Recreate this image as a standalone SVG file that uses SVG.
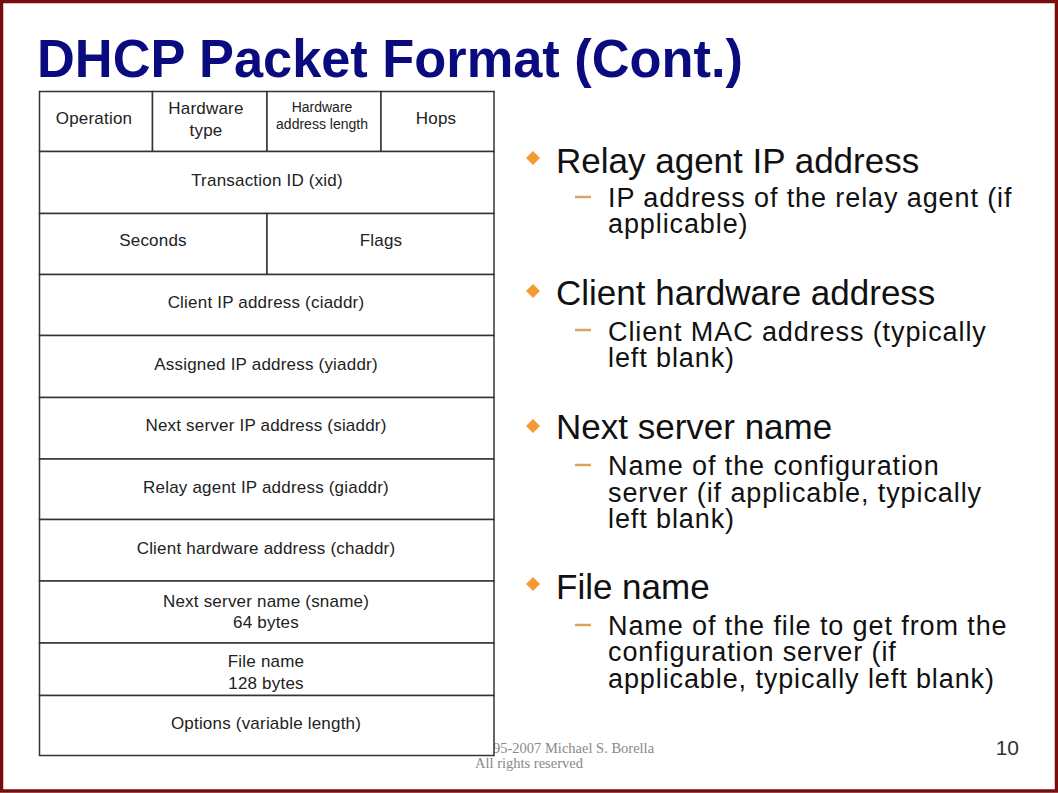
<svg xmlns="http://www.w3.org/2000/svg" width="1058" height="793" viewBox="0 0 1058 793">
<style>
.cell{fill:#fff;stroke:#333;stroke-width:1.5}
.t{font-family:"Liberation Sans",Arial,sans-serif;font-size:17px;fill:#222;text-anchor:middle;letter-spacing:0.2px}
.ts{font-family:"Liberation Sans",Arial,sans-serif;font-size:14px;fill:#222;text-anchor:middle}
.b1{font-family:"Liberation Sans",Arial,sans-serif;font-size:35px;fill:#111}
.b2{font-family:"Liberation Sans",Arial,sans-serif;font-size:27px;fill:#111;letter-spacing:0.9px}
.dia{fill:#F39A33}
.dash{stroke:#D9A45C;stroke-width:2.5}
.copy{font-family:"Liberation Serif","Times New Roman",serif;font-size:14.5px;fill:#888}
</style>
<rect x="0" y="0" width="1058" height="793" fill="#fff"/>
<rect x="1.5" y="1.5" width="1055" height="789.5" fill="none" stroke="#7A0C0C" stroke-width="3.5"/>
<g id="title">
<text x="37" y="77" font-family="Liberation Sans,Arial,sans-serif" font-weight="bold" font-size="53" fill="#0B0B80" textLength="706" lengthAdjust="spacingAndGlyphs">DHCP Packet Format (Cont.)</text>
</g>
<g id="copyright">
<text class="copy" x="493" y="753">95-2007 Michael S. Borella</text>
<text class="copy" x="475" y="768">All rights reserved</text>
</g>
<g id="table">
<g id="operation"><rect class="cell" x="39.5" y="91.5" width="113" height="60"/><text class="t" x="94" y="124">Operation</text></g>
<g id="hwtype"><rect class="cell" x="152.5" y="91.5" width="114.5" height="60"/><text class="t" x="206" y="114">Hardware</text><text class="t" x="206" y="136">type</text></g>
<g id="hwlen"><rect class="cell" x="267" y="91.5" width="114" height="60"/><text class="ts" x="322" y="112">Hardware</text><text class="ts" x="322" y="129">address length</text></g>
<g id="hops"><rect class="cell" x="381" y="91.5" width="113" height="60"/><text class="t" x="436" y="124">Hops</text></g>
<g id="xid"><rect class="cell" x="39.5" y="151.5" width="454.5" height="62"/><text class="t" x="267" y="186">Transaction ID (xid)</text></g>
<g id="seconds"><rect class="cell" x="39.5" y="213.5" width="227.5" height="61"/><text class="t" x="153" y="246">Seconds</text></g>
<g id="flags"><rect class="cell" x="267" y="213.5" width="227" height="61"/><text class="t" x="381" y="246">Flags</text></g>
<g id="ciaddr"><rect class="cell" x="39.5" y="274.5" width="454.5" height="61"/><text class="t" x="266" y="308">Client IP address (ciaddr)</text></g>
<g id="yiaddr"><rect class="cell" x="39.5" y="335.5" width="454.5" height="62"/><text class="t" x="266" y="370">Assigned IP address (yiaddr)</text></g>
<g id="siaddr"><rect class="cell" x="39.5" y="397.5" width="454.5" height="61.5"/><text class="t" x="266" y="431">Next server IP address (siaddr)</text></g>
<g id="giaddr"><rect class="cell" x="39.5" y="459" width="454.5" height="60.5"/><text class="t" x="266" y="493">Relay agent IP address (giaddr)</text></g>
<g id="chaddr"><rect class="cell" x="39.5" y="519.5" width="454.5" height="61.5"/><text class="t" x="266" y="554">Client hardware address (chaddr)</text></g>
<g id="sname"><rect class="cell" x="39.5" y="581" width="454.5" height="62"/><text class="t" x="266" y="607">Next server name (sname)</text><text class="t" x="266" y="628">64 bytes</text></g>
<g id="file"><rect class="cell" x="39.5" y="643" width="454.5" height="52.5"/><text class="t" x="266" y="667">File name</text><text class="t" x="266" y="689">128 bytes</text></g>
<g id="options"><rect class="cell" x="39.5" y="695.5" width="454.5" height="60"/><text class="t" x="266" y="729">Options (variable length)</text></g>
</g>
<g id="bullets">
<g id="relay">
<path class="dia" d="M533 151 L540 158 L533 165 L526 158 Z"/>
<text class="b1" x="556" y="173">Relay agent IP address</text>
<line class="dash" x1="575" y1="197" x2="591" y2="197"/>
<text class="b2" x="608" y="207">IP address of the relay agent (if</text>
<text class="b2" x="608" y="233">applicable)</text>
</g>
<g id="client">
<path class="dia" d="M533 284 L540 291 L533 298 L526 291 Z"/>
<text class="b1" x="556" y="305">Client hardware address</text>
<line class="dash" x1="575" y1="330" x2="591" y2="330"/>
<text class="b2" x="608" y="341">Client MAC address (typically</text>
<text class="b2" x="608" y="367">left blank)</text>
</g>
<g id="nextserver">
<path class="dia" d="M533 419 L540 426 L533 433 L526 426 Z"/>
<text class="b1" x="556" y="439">Next server name</text>
<line class="dash" x1="575" y1="465" x2="591" y2="465"/>
<text class="b2" x="608" y="475">Name of the configuration</text>
<text class="b2" x="608" y="502">server (if applicable, typically</text>
<text class="b2" x="608" y="528">left blank)</text>
</g>
<g id="filename">
<path class="dia" d="M533 577 L540 584 L533 591 L526 584 Z"/>
<text class="b1" x="556" y="599">File name</text>
<line class="dash" x1="575" y1="625" x2="591" y2="625"/>
<text class="b2" x="608" y="635">Name of the file to get from the</text>
<text class="b2" x="608" y="661">configuration server (if</text>
<text class="b2" x="608" y="688">applicable, typically left blank)</text>
</g>
</g>
<g id="connectors"></g>
<text x="1019" y="755" font-family="Liberation Sans,Arial,sans-serif" font-size="21" fill="#333" text-anchor="end">10</text>
</svg>
